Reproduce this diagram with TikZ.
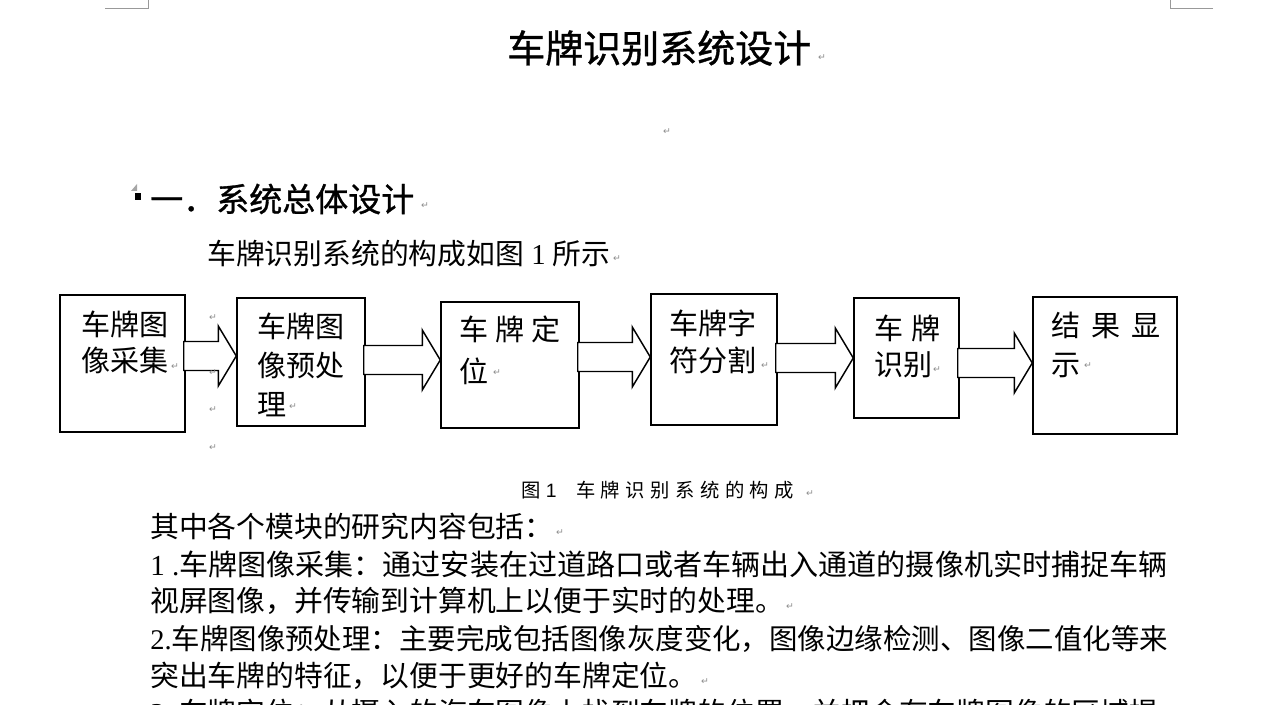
\documentclass[tikz,border=0pt]{standalone}
\usepackage{fontspec}
\usetikzlibrary{calc,fit}
\newfontfamily\cjk{Noto Sans CJK SC}
\newfontfamily\cjkhead[FakeBold=1]{Noto Sans CJK SC}
\newfontfamily\cjkcap[LetterSpace=28.5]{Noto Sans CJK SC}
\newfontfamily\tnr{Liberation Serif}
\newfontfamily\arial{Liberation Sans}
\newfontfamily\markfont{DejaVu Sans}

% block arrow from one box to the next, at height #3
\newcommand{\blockarrow}[3]{%
  \path (#1.east |- 0,#3) coordinate (#1-out) (#2.west |- 0,#3) coordinate (#2-in);
  \draw[barrow] ($(#1-out)+(-2,-14.5)$) -- ($(#2-in)+(-18,-14.5)$) -- ($(#2-in)+(-18,-30)$) -- (#2-in)
    -- ($(#2-in)+(-18,30)$) -- ($(#2-in)+(-18,14.5)$) -- ($(#1-out)+(-2,14.5)$) -- cycle;}

\tikzset{
  box/.style={draw, line width=1.1pt, inner sep=0pt},
  barrow/.style={draw, fill=white, line width=1.1pt, line join=miter},
  txt/.style={inner sep=0pt, anchor=west},
  body/.style={txt, font=\cjk\fontsize{#1}{24}\selectfont},
  body/.default=21.6,
  boxtxt/.style={inner sep=0pt, anchor=north west, align=left, font=\cjk\fontsize{21.8}{#1}\selectfont},
  pm/.style={inner sep=0pt, font=\markfont\fontsize{7}{7}\selectfont, text=black!45},
}

\begin{document}
\begin{tikzpicture}[x=0.75pt,y=0.75pt,yscale=-1,xscale=1]
\useasboundingbox (0,0) rectangle (1279,705);
\clip (0,0) rectangle (1279,705);

%Page corners
\draw[black!40, line width=0.6pt] (105,8) -- (148,8) -- (148,0);
\draw[black!40, line width=0.6pt] (1213,8) -- (1170,8) -- (1170,0);

% Text Node
\node[txt, font=\cjkhead\fontsize{28.5}{30}\selectfont] (title) at (507,48) {车牌识别系统设计};
%Shape: bullet
\fill[black!35] (131,191) -- (137,191) -- (137,184) -- cycle;
\fill (135,193) rectangle (141,200);
% Text Node
\node[txt, font=\cjkhead\fontsize{24.75}{26}\selectfont] (sec) at (150,199) {一．系统总体设计};
% Text Node
\node[body] (intro) at (207,254) {车牌识别系统的构成如图{\tnr\ 1 }所示};

%Shape: Rectangles
\foreach \n/\xa/\ya/\xb/\yb in {b1/60/295/185/432, b2/237/298/365/426, b3/441/302/579/428,
    b4/651/294/777/425, b5/854/298/959/418, b6/1033/297/1177/434}
  \node[box, fit={(\xa,\ya) (\xb,\yb)}] (\n) {};

% Text Node
\node[boxtxt=27] (t1) at (81,311) {车牌图\\像采集};
\node[boxtxt=29.25] (t2) at (257,313) {车牌图\\像预处\\理};
\node[boxtxt=31.5] (t3) at (459,315.5) {车\hspace{5.25pt}牌\hspace{5.25pt}定\\位};
\node[boxtxt=27.75] (t4) at (669,309.5) {车牌字\\符分割};
\node[boxtxt=27] (t5) at (874,314.5) {车\hspace{6pt}牌\\识别};
\node[boxtxt=28.9] (t6) at (1051,312) {结\hspace{8.25pt}果\hspace{8.25pt}显\\示};

%Block arrows
\blockarrow{b1}{b2}{356}
\blockarrow{b2}{b3}{360}
\blockarrow{b3}{b4}{357}
\blockarrow{b4}{b5}{358}
\blockarrow{b5}{b6}{363}

% Text Node
\node[txt, font=\cjkcap\fontsize{14.5}{16}\selectfont] (cap) at (521,490) {图{\arial\ 1}\quad 车牌识别系统的构成};
% Text Node
\node[body] (p1) at (150,527) {其中各个模块的研究内容包括：};
\node[body=21.8] (p2) at (150,564) {{\tnr 1 .}车牌图像采集：通过安装在过道路口或者车辆出入通道的摄像机实时捕捉车辆};
\node[body] (p3) at (150,601) {视屏图像，并传输到计算机上以便于实时的处理。};
\node[body=21.35] (p4) at (150,639) {{\tnr 2.}车牌图像预处理：主要完成包括图像灰度变化，图像边缘检测、图像二值化等来};
\node[body] (p5) at (150,676) {突出车牌的特征，以便于更好的车牌定位。};
\node[body] (p6) at (150,713) {{\tnr 3 .}车牌定位：从摄入的汽车图像上找到车牌的位置，并把含有车牌图像的区域提};

%Paragraph marks
\foreach \x/\y [count=\i] in {822/58, 667/132, 425/206, 617/259, 213/318, 213/373, 213/410, 213/448,
    175/367, 293/407, 497/373, 765/366, 937/370, 1088/366, 810/494, 560/533, 790/607, 705/682}
  \node[pm] (m\i) at (\x,\y) {↵};
\end{tikzpicture}
\end{document}
